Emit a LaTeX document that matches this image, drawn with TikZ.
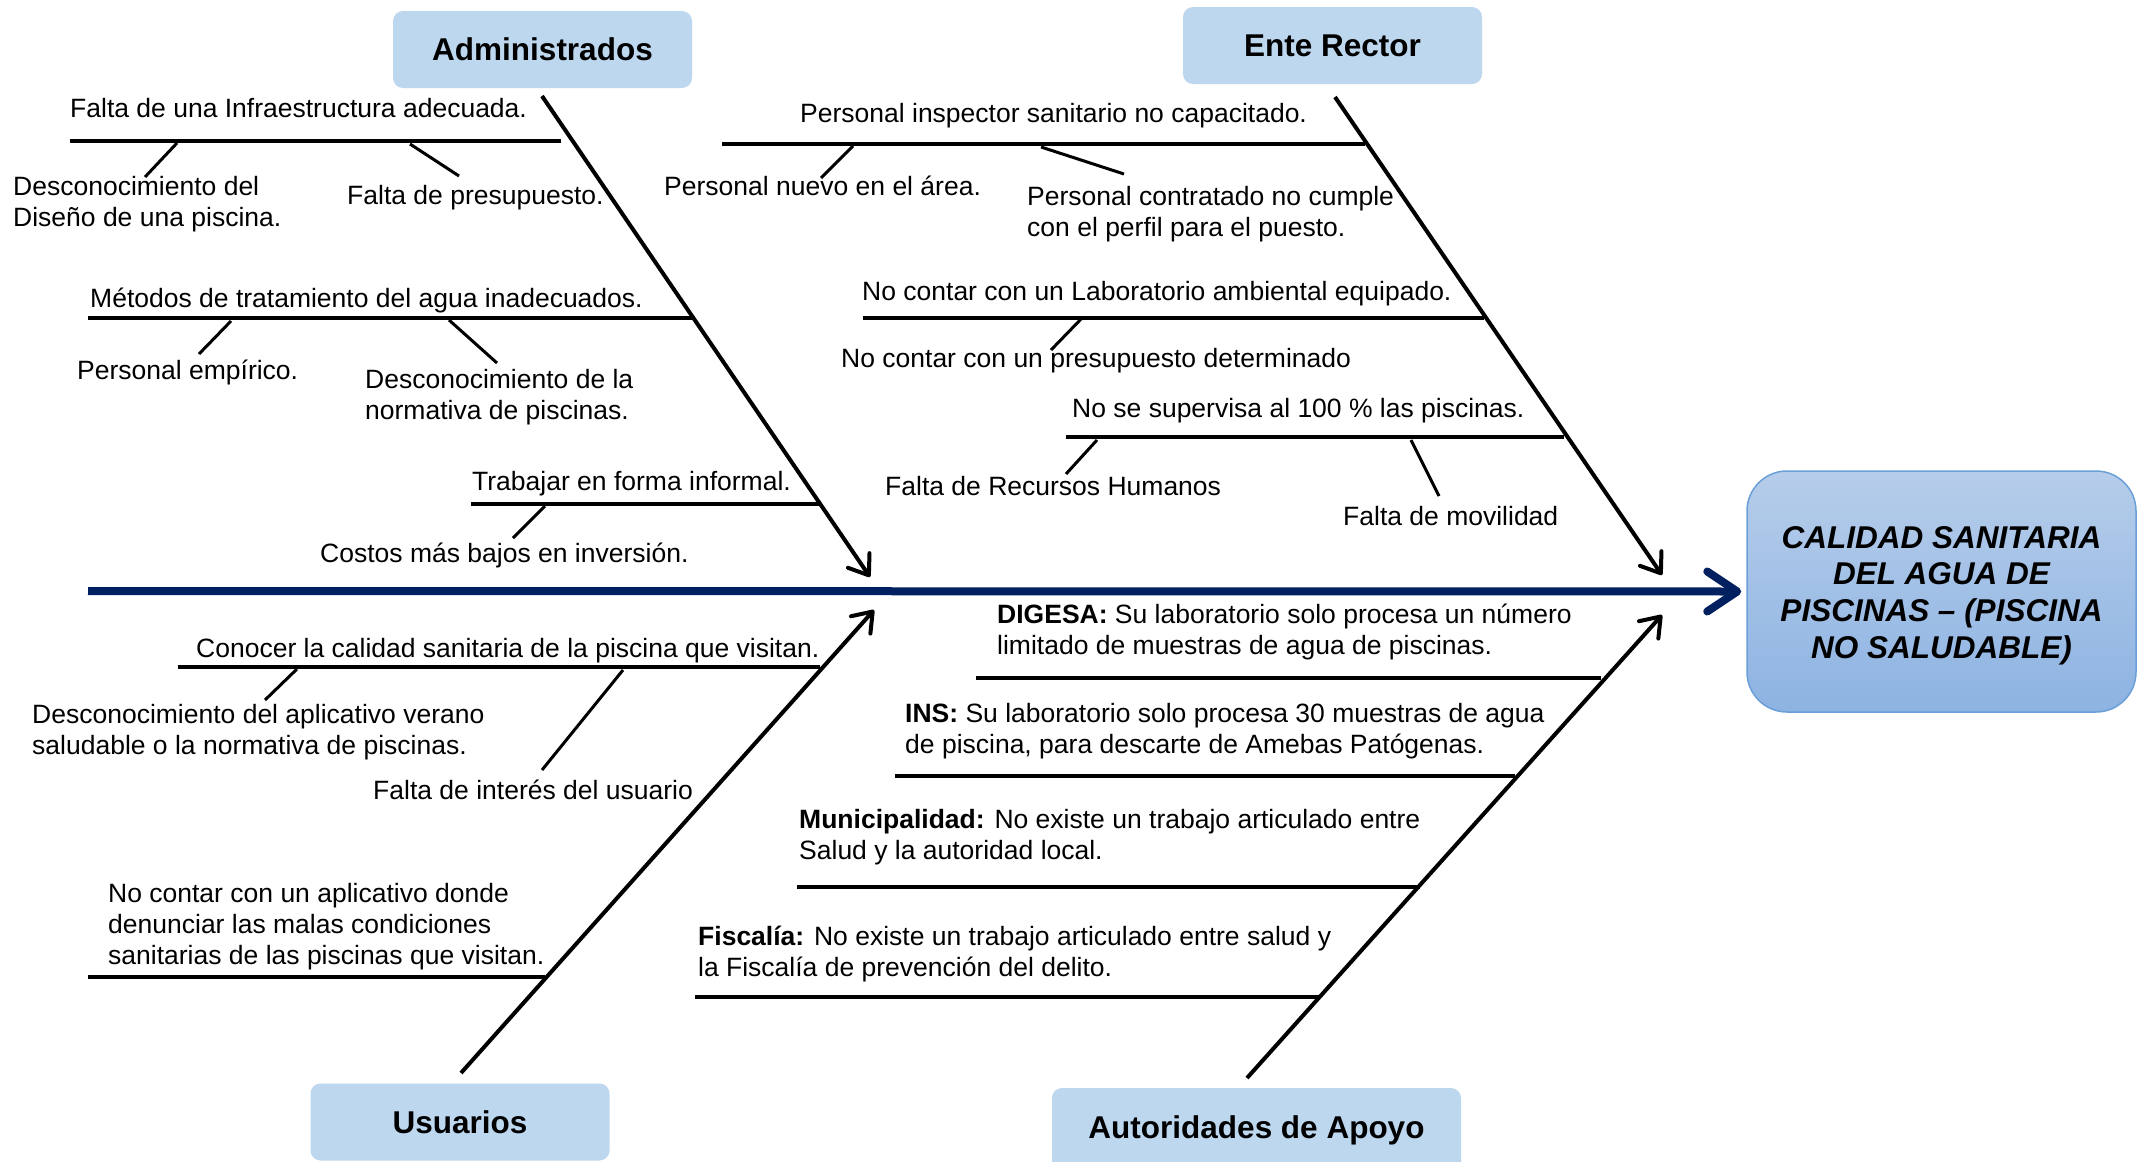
\documentclass[tikz,border=0pt]{standalone}
\usepackage{fontspec}
\setmainfont{Liberation Sans}
\usetikzlibrary{arrows.meta}
\definecolor{navy}{HTML}{002060}
\definecolor{catfill}{HTML}{BDD7EE}
\definecolor{restop}{HTML}{B6CDEA}
\definecolor{resbot}{HTML}{8DB3E2}
\definecolor{resline}{HTML}{6A9FD8}
\tikzset{
  cat/.style={fill=catfill, rounded corners=10pt, font=\fontsize{31.5}{36}\selectfont\bfseries,
    minimum width=299pt, minimum height=77pt, inner sep=0pt},
  result/.style={draw=resline, line width=1.5pt, top color=restop, bottom color=resbot,
    rounded corners=40pt, minimum width=389pt, minimum height=241pt, inner sep=0pt},
  restext/.style={align=center, font=\fontsize{31.5}{36.7}\selectfont\bfseries\itshape, inner sep=0pt},
  spine/.style={draw=navy, line width=8pt, -{Straight Barb[round, length=30pt, width=40pt]}},
  bone/.style={line width=4pt, -{Straight Barb[round, length=18pt, width=26pt]}},
  branch/.style={line width=4pt},
  tick/.style={line width=3pt},
  txt/.style={font=\fontsize{26.5}{31}\selectfont, inner sep=0pt, anchor=base west},
}
\newcommand\twol[2]{\vtop{\hbox{#1}\hbox{#2}}}
\newcommand\threel[3]{\vtop{\hbox{#1}\hbox{#2}\hbox{#3}}}
\begin{document}
\begin{tikzpicture}[x=1pt,y=-1pt]
\useasboundingbox (0,0) rectangle (2137,1162);
\fill[white] (0,0) rectangle (2137,1162);

% category boxes and effect
\node[cat] (adm) at (542.5,49.5) {Administrados};
\node[cat] (ente) at (1332.5,45.5) {Ente Rector};
\node[cat] (usu) at (460,1122) {Usuarios};
\node[cat, minimum width=409pt, minimum height=84pt] (aut) at (1256.5,1130) {Autoridades de Apoyo};
\node[result] (res) at (1941.5,591.5) {};
\node[restext] (restxt) at ([yshift=-4pt]res.center) {CALIDAD SANITARIA\\DEL AGUA DE\\PISCINAS -- (PISCINA\\NO SALUDABLE)};

% spine
\coordinate (s0) at (88,591);
\draw[spine, shorten >=5pt] (s0) -- (res.west);

% bones
\coordinate (admA) at (542,96);   \coordinate (admT) at (870,577);
\coordinate (entA) at (1335,97);  \coordinate (entT) at (1662,575);
\coordinate (usuA) at (461,1073); \coordinate (usuT) at (874,610);
\coordinate (autA) at (1247,1078);\coordinate (autT) at (1662,615);
\draw[bone] (admA) -- (admT);
\draw[bone] (entA) -- (entT);
\draw[bone] (usuA) -- (usuT);
\draw[bone] (autA) -- (autT);

% ---- Administrados
\draw[branch] (70,141) -- (561,141);
\node[txt] (a1) at (70,117) {Falta de una Infraestructura adecuada.};
\draw[tick] (177,143) -- (145,177);
\node[txt] (a1a) at (13,195) {\twol{Desconocimiento del}{Diseño de una piscina.}};
\draw[tick] (410,144) -- (459,176);
\node[txt] (a1b) at (347,204) {Falta de presupuesto.};

\draw[branch] (88,318) -- (692,318);
\node[txt] (a2) at (90,307) {Métodos de tratamiento del agua inadecuados.};
\draw[tick] (231,321) -- (199,354);
\node[txt] (a2a) at (77,379) {Personal empírico.};
\draw[tick] (449,320) -- (497,363);
\node[txt] (a2b) at (365,388) {\twol{Desconocimiento de la}{normativa de piscinas.}};

\draw[branch] (471,504) -- (820,504);
\node[txt] (a3) at (472,490) {Trabajar en forma informal.};
\draw[tick] (545,506) -- (513,538);
\node[txt] (a3a) at (320,562) {Costos más bajos en inversión.};

% ---- Usuarios
\draw[branch] (178,667) -- (820,667);
\node[txt] (u1) at (196,657) {Conocer la calidad sanitaria de la piscina que visitan.};
\draw[tick] (297,669) -- (265,700);
\node[txt] (u1a) at (32,723) {\twol{Desconocimiento del aplicativo verano}{saludable o la normativa de piscinas.}};
\draw[tick] (623,670) -- (542,770);
\node[txt] (u1b) at (373,799) {Falta de interés del usuario};

\draw[branch] (88,977) -- (545,977);
\node[txt] (u2) at (108,902) {\threel{No contar con un aplicativo donde}{denunciar las malas condiciones}{sanitarias de las piscinas que visitan.}};

% ---- Ente Rector
\draw[branch] (722,144) -- (1365,144);
\node[txt] (e1) at (800,122) {Personal inspector sanitario no capacitado.};
\draw[tick] (853,146) -- (821,178);
\node[txt] (e1a) at (664,195) {Personal nuevo en el área.};
\draw[tick] (1041,147) -- (1124,174);
\node[txt] (e1b) at (1027,205) {\twol{Personal contratado no cumple}{con el perfil para el puesto.}};

\draw[branch] (863,318) -- (1484,318);
\node[txt] (e2) at (862,300) {No contar con un Laboratorio ambiental equipado.};
\draw[tick] (1083,317) -- (1051,350);
\node[txt] (e2a) at (841,367) {No contar con un presupuesto determinado};

\draw[branch] (1066,437) -- (1564,437);
\node[txt] (e3) at (1072,417) {No se supervisa al 100 \% las piscinas.};
\draw[tick] (1097,440) -- (1066,474);
\node[txt] (e3a) at (885,495) {Falta de Recursos Humanos};
\draw[tick] (1411,440) -- (1439,496);
\node[txt] (e3b) at (1343,525) {Falta de movilidad};

% ---- Autoridades de Apoyo
\draw[branch] (976,678) -- (1601,678);
\node[txt] (p1) at (997,623) {\twol{\textbf{DIGESA:} Su laboratorio solo procesa un número}{limitado de muestras de agua de piscinas.}};
\draw[branch] (895,776) -- (1515,776);
\node[txt] (p2) at (905,722) {\twol{\textbf{INS:} Su laboratorio solo procesa 30 muestras de agua}{de piscina, para descarte de Amebas Patógenas.}};
\draw[branch] (797,887) -- (1420,887);
\node[txt] (p3) at (799,828) {\twol{\textbf{Municipalidad:} No existe un trabajo articulado entre}{Salud y la autoridad local.}};
\draw[branch] (695,997) -- (1320,997);
\node[txt] (p4) at (698,945) {\twol{\textbf{Fiscalía:} No existe un trabajo articulado entre salud y}{la Fiscalía de prevención del delito.}};
\end{tikzpicture}
\end{document}
